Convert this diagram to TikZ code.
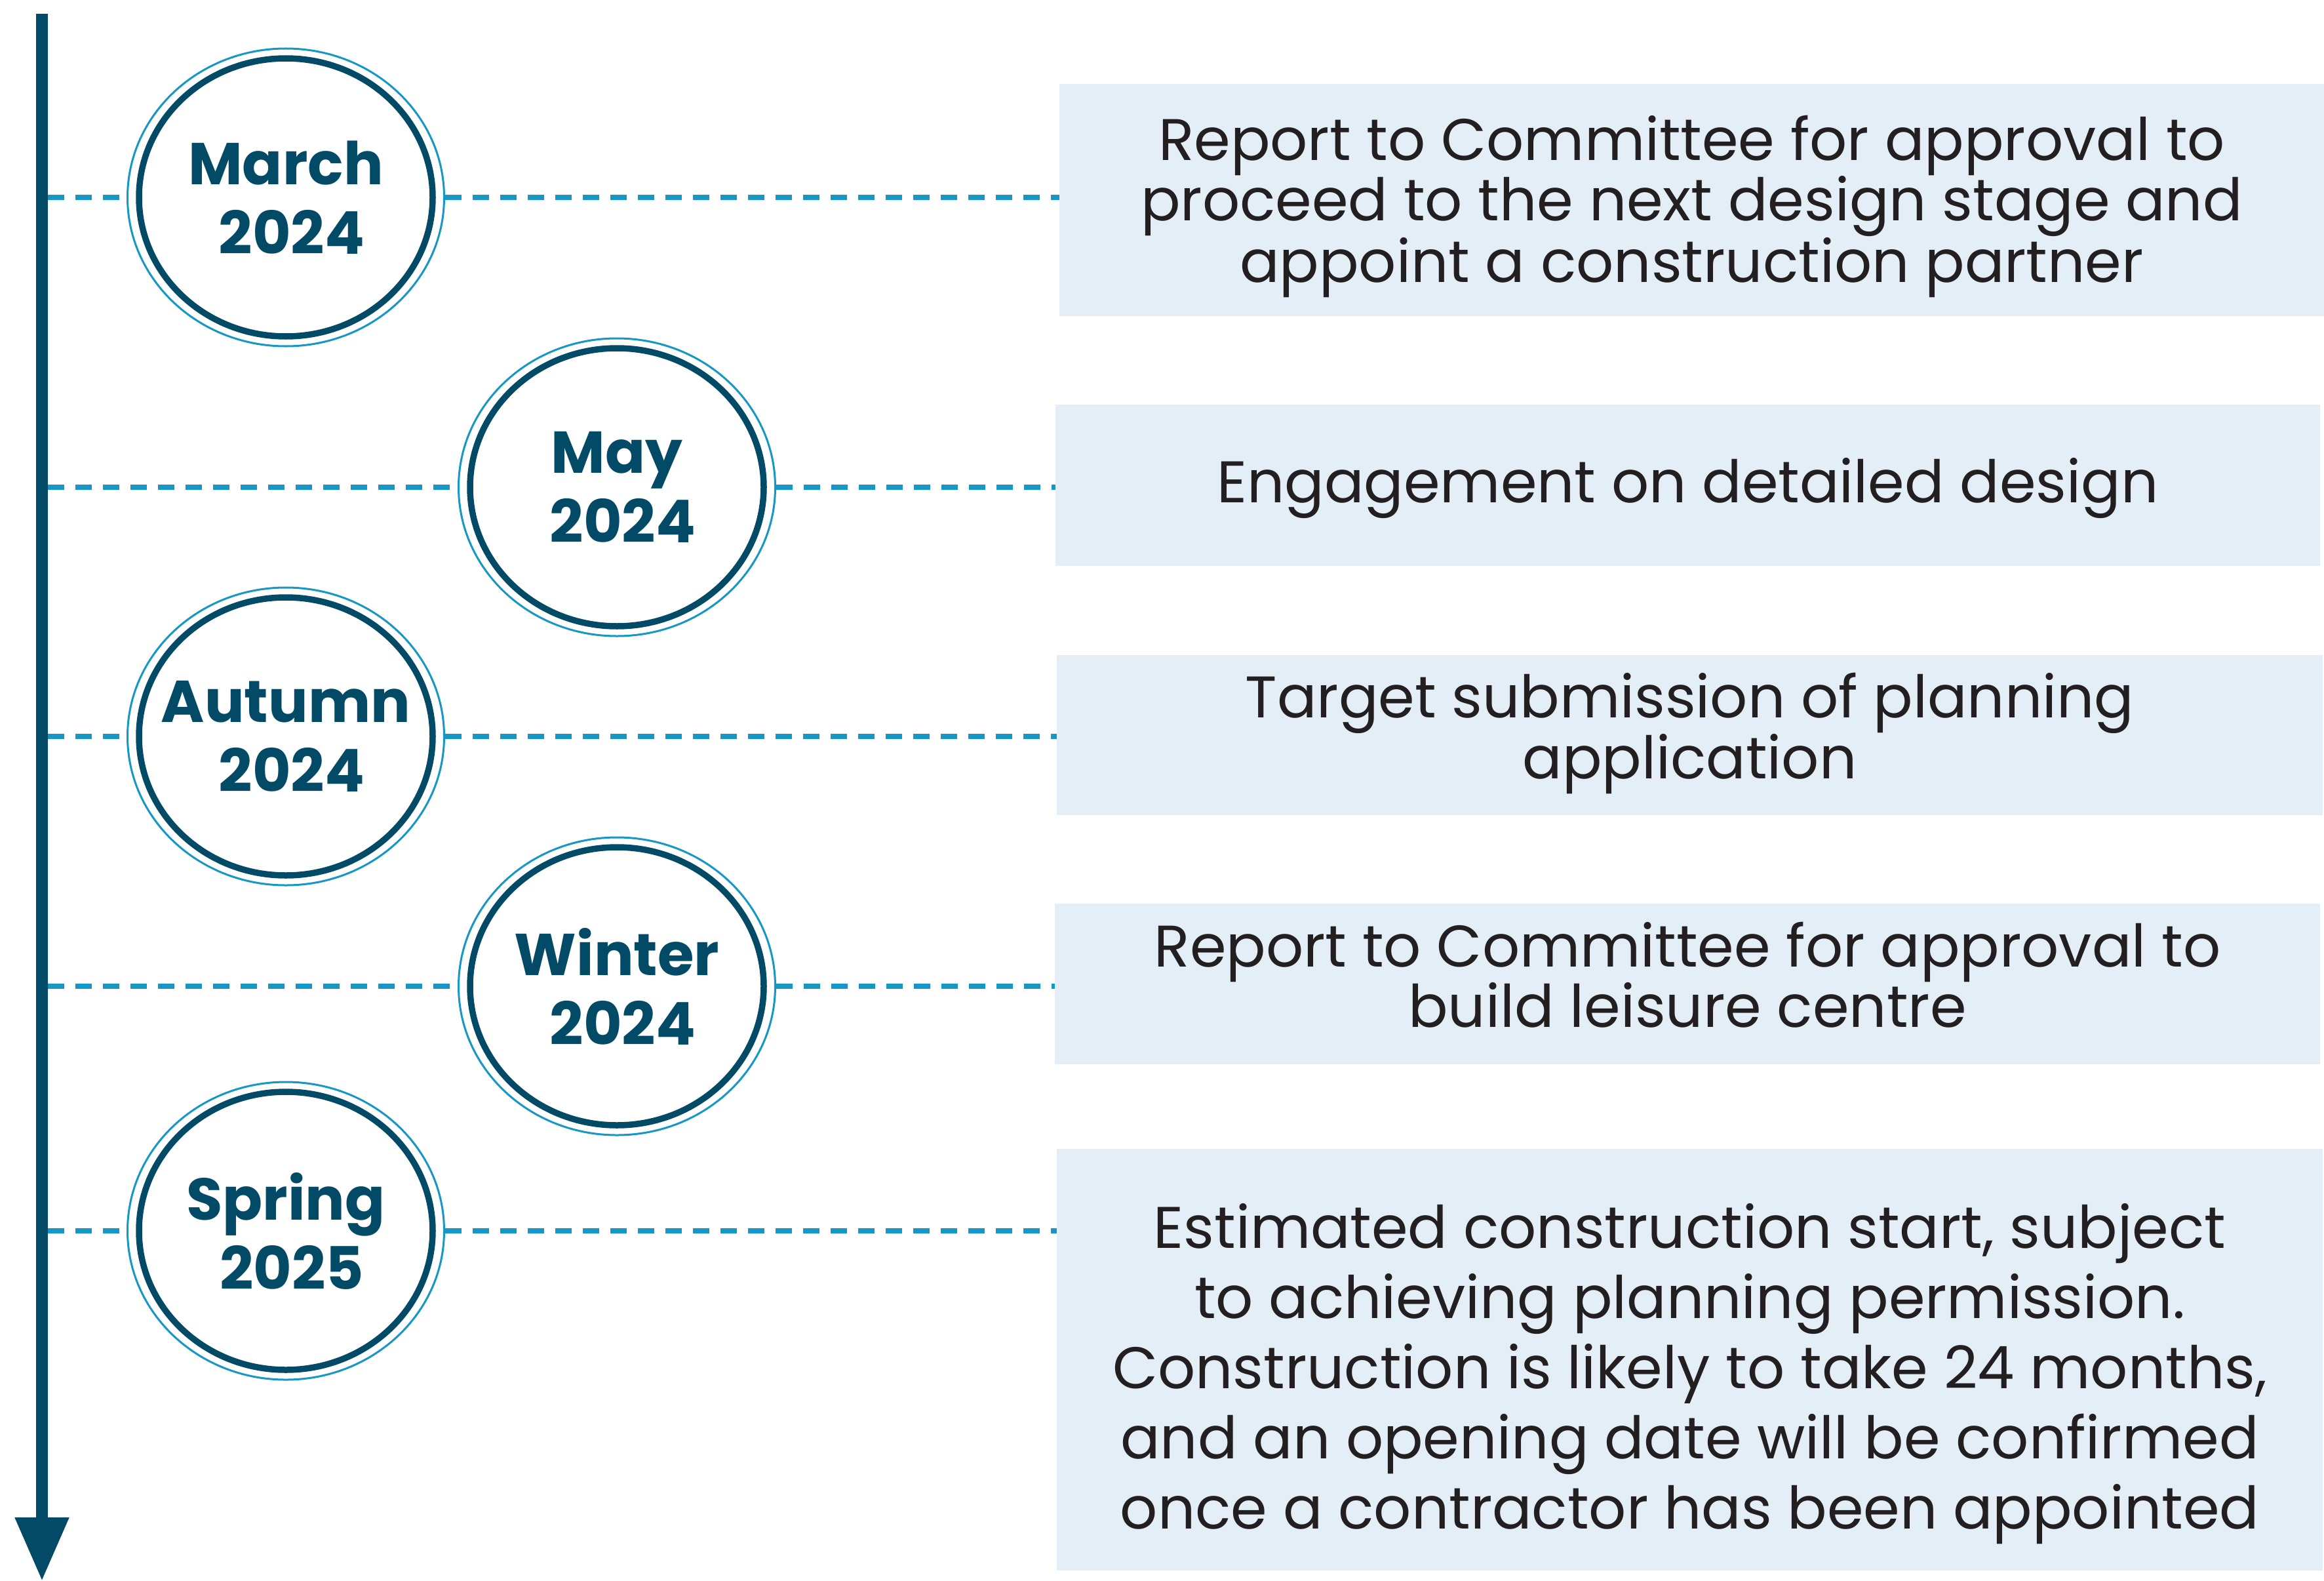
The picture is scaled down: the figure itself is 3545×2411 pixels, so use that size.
\documentclass[tikz,border=0pt]{standalone}
\usepackage{fontspec}
\setmainfont{Poppins}
\usetikzlibrary{arrows.meta,shapes.geometric}
\definecolor{navy}{HTML}{034A67}
\definecolor{cyanl}{HTML}{1797C5}
\definecolor{boxfill}{HTML}{E3EEF7}
\definecolor{txt}{HTML}{231F20}
\newcommand{\yr}[1]{\hspace*{18pt}#1}
\tikzset{
  datering/.style={ellipse, minimum width=483pt, minimum height=454pt, inner sep=0pt,
    draw=cyanl, line width=3pt, fill=white},
  innerring/.style={draw=navy, line width=9.5pt},
  datelabel/.style={font=\bfseries\fontsize{90}{106}\selectfont, text=navy, align=center,
    text depth=0pt, inner sep=0pt},
  stepbox/.style={rectangle, fill=boxfill, inner sep=0pt, draw=none},
  boxtext/.style={font=\fontsize{89.5}{90}\selectfont, text=txt, align=center,
    text depth=0pt, inner sep=0pt},
  guide/.style={draw=cyanl, line width=8pt, dash pattern=on 25pt off 17pt},
  spine/.style={draw=navy, line width=18pt, -{Triangle[width=78pt,length=97pt]}}
}
\begin{document}
\begin{tikzpicture}[x=1pt,y=-1pt]
\fill[white] (0,0) rectangle (3545,2411);
\useasboundingbox (0,0) rectangle (3545,2411);

% timeline spine
\coordinate (vtop) at (64,21);
\coordinate (vbot) at (64,2411);
\draw[spine] (vtop) -- (vbot);

% boxes
\node[stepbox, minimum width=1929pt, minimum height=354pt] (b1) at (2580.5,305) {};
\node[stepbox, minimum width=1929pt, minimum height=246pt] (b2) at (2574.5,740) {};
\node[stepbox, minimum width=1931pt, minimum height=244pt] (b3) at (2577.5,1121) {};
\node[stepbox, minimum width=1930pt, minimum height=245pt] (b4) at (2574,1500.5) {};
\node[stepbox, minimum width=1931pt, minimum height=643pt] (b5) at (2577.5,2073.5) {};

\node[boxtext, yshift=2pt] (t1) at (b1.center) {Report to Committee for approval to\\proceed to the next design stage and\\appoint a construction partner};
\node[boxtext, yshift=8pt] (t2) at (b2.center) {Engagement on detailed design};
\node[boxtext, yshift=14pt] (t3) at (b3.center) {Target submission of planning\\application};
\node[boxtext, yshift=14pt] (t4) at (b4.center) {Report to Committee for approval to\\build leisure centre};
\node[boxtext, font=\fontsize{89.5}{107}\selectfont, yshift=-10pt] (t5) at (b5.center) {Estimated construction start, subject\\to achieving planning permission.\\Construction is likely to take 24 months,\\and an opening date will be confirmed\\once a contractor has been appointed};

% date circles
\node[datering] (c1) at (436,301) {};
\node[datering] (c2) at (941,743) {};
\node[datering] (c3) at (436,1123) {};
\node[datering] (c4) at (941,1504) {};
\node[datering] (c5) at (436,1877) {};
\foreach \c in {c1,c2,c3,c4,c5}{
  \draw[innerring] (\c.center) ellipse [x radius=224pt, y radius=212pt];
}
\node[datelabel] (d1) at (c1.center) {March\\\yr{2024}};
\node[datelabel] (d2) at (c2.center) {May\\\yr{2024}};
\node[datelabel] (d3) at (c3.center) {Autumn\\\yr{2024}};
\node[datelabel] (d4) at (c4.center) {Winter\\\yr{2024}};
\node[datelabel] (d5) at (c5.center) {Spring\\\yr{2025}};

% guide lines
\foreach \c/\b in {c1/b1,c2/b2,c3/b3,c4/b4,c5/b5}{
  \coordinate (h\c) at (73,0 |- \c.center);
  \draw[guide] (h\c) -- (\c.west);
  \draw[guide] (\c.east) -- (\c.east -| \b.west);
}
\end{tikzpicture}
\end{document}
